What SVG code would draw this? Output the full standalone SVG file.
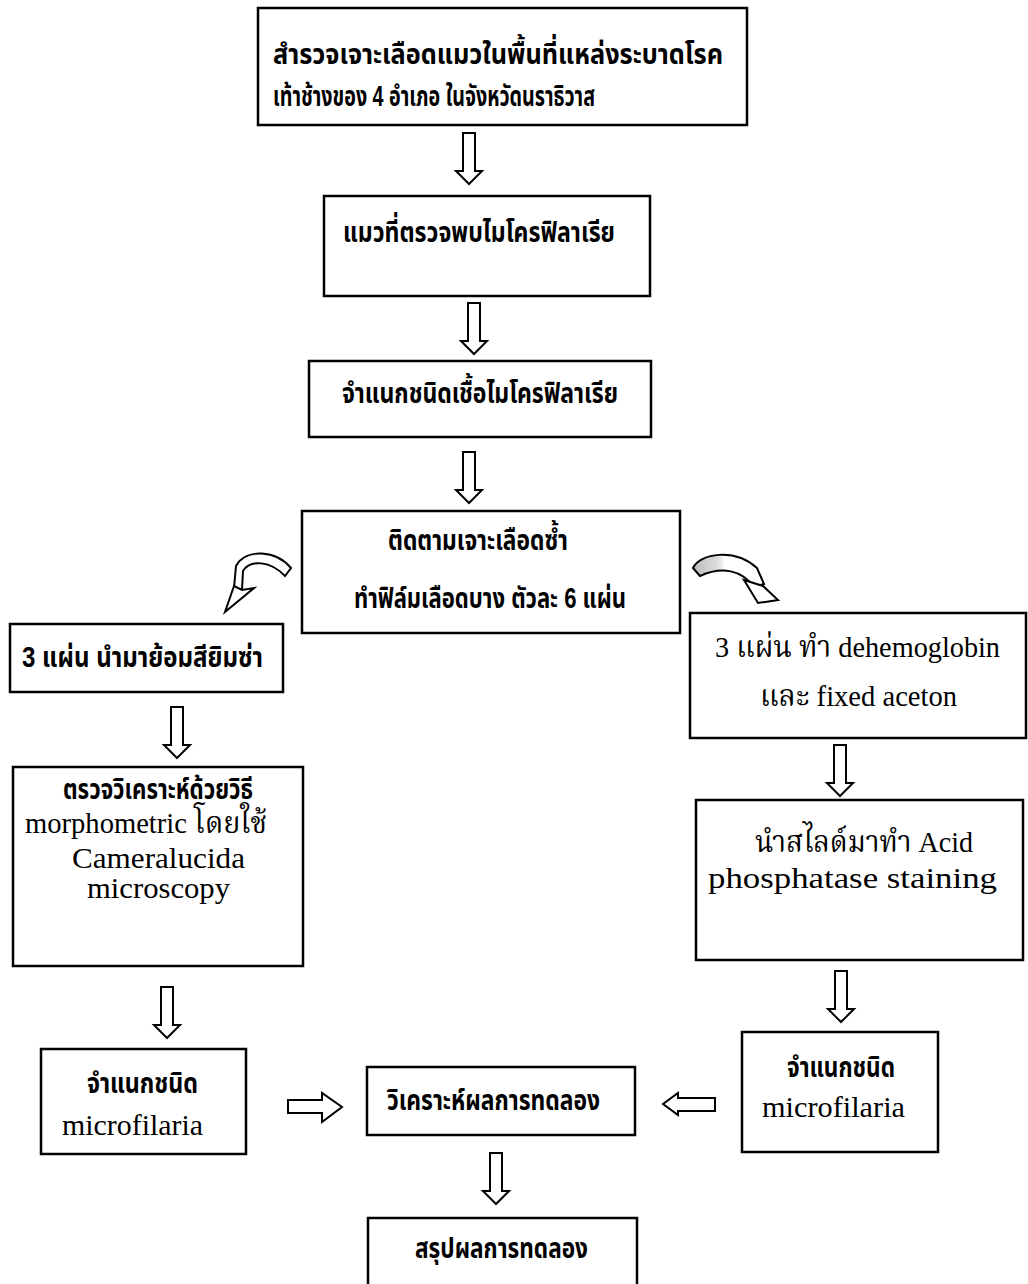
<svg xmlns="http://www.w3.org/2000/svg" width="1028" height="1284" viewBox="0 0 1028 1284">
<style>
.box{fill:#fff;stroke:#000;stroke-width:2.5}
.arr{fill:#fff;stroke:#000;stroke-width:2;stroke-linejoin:miter}
.th{font-family:"Liberation Sans","Noto Sans Thai","Noto Sans",sans-serif;font-weight:bold;font-size:29px;fill:#000}
.tr{font-family:"Liberation Serif","Noto Serif Thai","Noto Sans Thai",serif;font-size:30px;fill:#000}
</style>
<defs>
<path id="down" d="M-6,0 H6 V38 H13 L0,51 L-13,38 H-6 Z"/>
<linearGradient id="stip" x1="0" y1="0" x2="1" y2="0">
<stop offset="0" stop-color="#bbb"/><stop offset="0.35" stop-color="#ddd"/><stop offset="0.45" stop-color="#fff"/>
</linearGradient>
</defs>
<rect width="1028" height="1284" fill="#fff"/>
<g id="connectors">
<use href="#down" class="arr" x="469" y="133"/>
<use href="#down" class="arr" x="474" y="303"/>
<use href="#down" class="arr" x="469" y="452"/>
<use href="#down" class="arr" x="177" y="707"/>
<use href="#down" class="arr" x="167" y="987"/>
<use href="#down" class="arr" x="840" y="745"/>
<use href="#down" class="arr" x="841" y="971"/>
<use href="#down" class="arr" x="496" y="1153"/>
<path class="arr" d="M288,1100 H322 V1093 L342,1107 L322,1122 V1113 H288 Z"/>
<path class="arr" d="M715,1098 H678 V1093 L663,1104 L678,1115 V1111 H715 Z"/>
<path class="arr" d="M291,568 C276,550 246,548 236,566 L234,588 L242,590 L243,571 C250,559 271,561 285,576 Z"/>
<path class="arr" d="M234,586 L225,612 L254,588 L242,590 Z"/>
<path class="arr" style="fill:url(#stip)" d="M693,568 C700,553 735,548 757,568 L764,584 L754,587 C742,570 722,566 700,576 Z"/>
<path class="arr" d="M744,580 L758,603 L778,600 L763,586 Z"/>
</g>
<g id="n1"><rect class="box" x="258" y="8" width="489" height="117"/>
<text class="th" x="273" y="64" textLength="450" lengthAdjust="spacingAndGlyphs">สำรวจเจาะเลือดแมวในพื้นที่แหล่งระบาดโรค</text>
<text class="th" x="273" y="106" textLength="322" lengthAdjust="spacingAndGlyphs">เท้าช้างของ 4 อำเภอ ในจังหวัดนราธิวาส</text></g>
<g id="n2"><rect class="box" x="324" y="196" width="326" height="100"/>
<text class="th" x="343" y="242" textLength="272" lengthAdjust="spacingAndGlyphs">แมวที่ตรวจพบไมโครฟิลาเรีย</text></g>
<g id="n3"><rect class="box" x="309" y="361" width="342" height="76"/>
<text class="th" x="342" y="403" textLength="276" lengthAdjust="spacingAndGlyphs">จำแนกชนิดเชื้อไมโครฟิลาเรีย</text></g>
<g id="n4"><rect class="box" x="302" y="511" width="378" height="122"/>
<text class="th" x="388" y="550" textLength="180" lengthAdjust="spacingAndGlyphs">ติดตามเจาะเลือดซ้ำ</text>
<text class="th" x="354" y="608" textLength="272" lengthAdjust="spacingAndGlyphs">ทำฟิล์มเลือดบาง ตัวละ 6 แผ่น</text></g>
<g id="n5l"><rect class="box" x="10" y="624" width="273" height="68"/>
<text class="th" x="22" y="667" textLength="241" lengthAdjust="spacingAndGlyphs">3 แผ่น นำมาย้อมสียิมซ่า</text></g>
<g id="n5r"><rect class="box" x="690" y="613" width="336" height="125"/>
<text class="tr" x="715" y="657" textLength="285" lengthAdjust="spacingAndGlyphs">3 แผ่น ทำ dehemoglobin</text>
<text class="tr" x="760" y="706" textLength="197" lengthAdjust="spacingAndGlyphs">และ fixed aceton</text></g>
<g id="n6l"><rect class="box" x="13" y="767" width="290" height="199"/>
<text class="th" x="63" y="799" textLength="190" lengthAdjust="spacingAndGlyphs">ตรวจวิเคราะห์ด้วยวิธี</text>
<text class="tr" x="25" y="833" textLength="242" lengthAdjust="spacingAndGlyphs">morphometric โดยใช้</text>
<text class="tr" x="72" y="868" textLength="173" lengthAdjust="spacingAndGlyphs">Cameralucida</text>
<text class="tr" x="87" y="898" textLength="143" lengthAdjust="spacingAndGlyphs">microscopy</text></g>
<g id="n6r"><rect class="box" x="696" y="800" width="327" height="160"/>
<text class="tr" x="755" y="852" textLength="218" lengthAdjust="spacingAndGlyphs">นำสไลด์มาทำ Acid</text>
<text class="tr" x="708" y="888" textLength="289" lengthAdjust="spacingAndGlyphs">phosphatase staining</text></g>
<g id="n7l"><rect class="box" x="41" y="1049" width="205" height="105"/>
<text class="th" x="87" y="1093" textLength="111" lengthAdjust="spacingAndGlyphs">จำแนกชนิด</text>
<text class="tr" x="62" y="1135" textLength="141" lengthAdjust="spacingAndGlyphs">microfilaria</text></g>
<g id="nc"><rect class="box" x="367" y="1067" width="268" height="68"/>
<text class="th" x="387" y="1110" textLength="213" lengthAdjust="spacingAndGlyphs">วิเคราะห์ผลการทดลอง</text></g>
<g id="n7r"><rect class="box" x="742" y="1032" width="196" height="120"/>
<text class="th" x="787" y="1077" textLength="108" lengthAdjust="spacingAndGlyphs">จำแนกชนิด</text>
<text class="tr" x="762" y="1117" textLength="143" lengthAdjust="spacingAndGlyphs">microfilaria</text></g>
<g id="nb"><rect class="box" x="368" y="1218" width="269" height="80"/>
<text class="th" x="415" y="1258" textLength="173" lengthAdjust="spacingAndGlyphs">สรุปผลการทดลอง</text></g>
</svg>
